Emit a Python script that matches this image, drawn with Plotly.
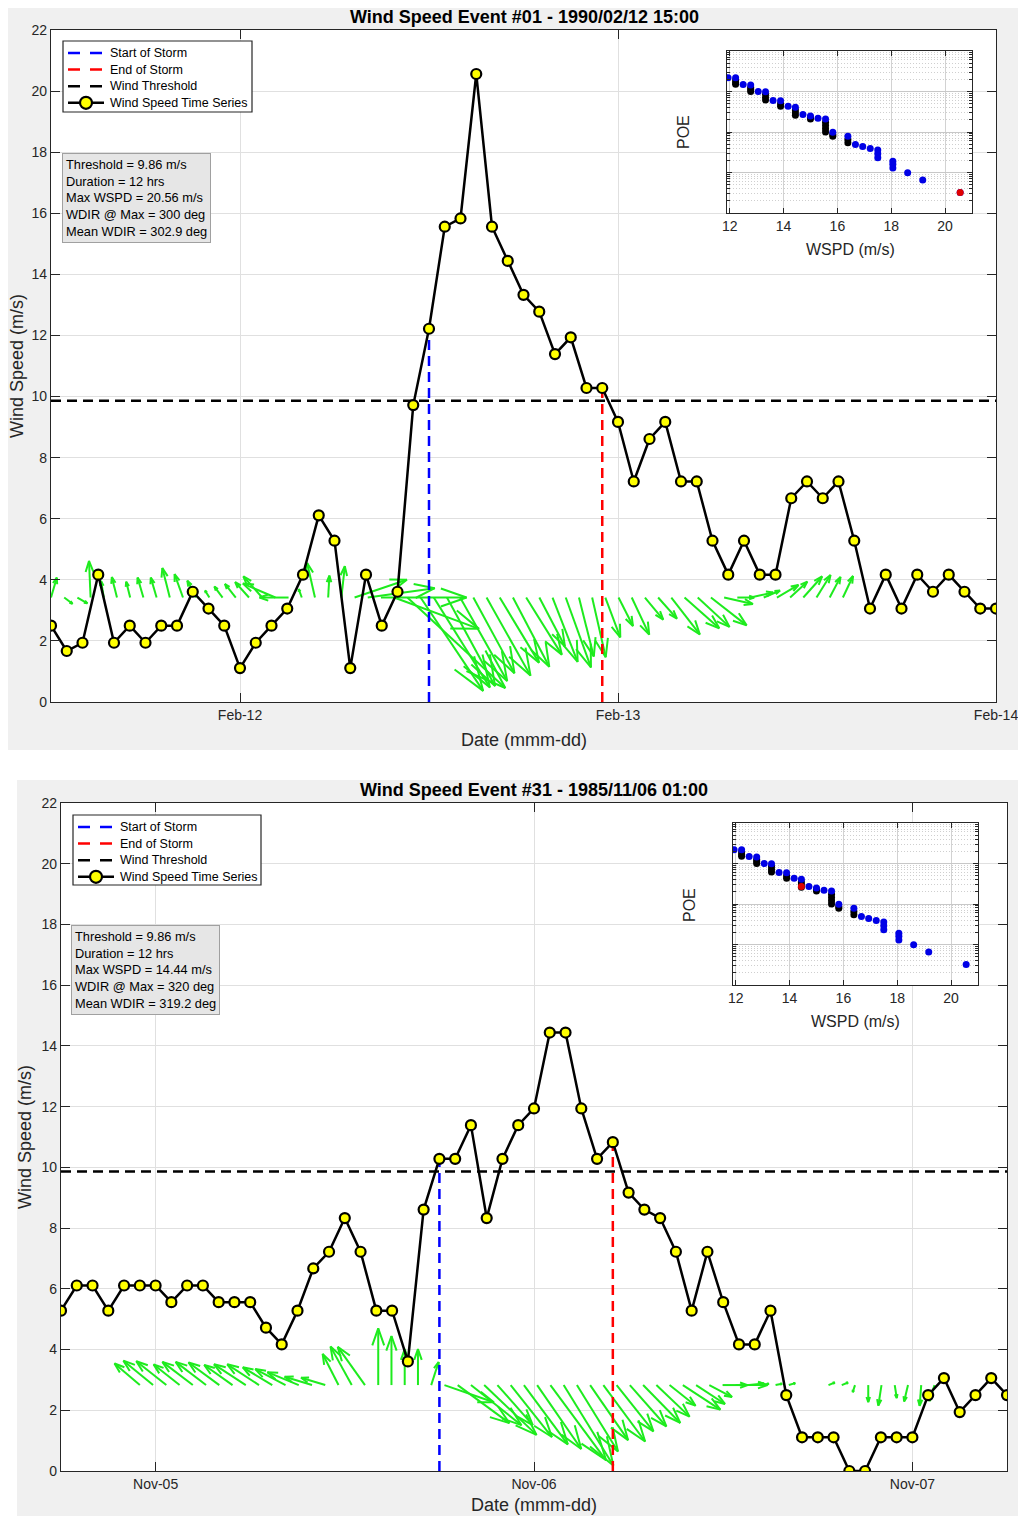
import math
from datetime import datetime, timedelta
import plotly.graph_objects as go

# The browser adds an 8px body margin; the figure starts at (8, 8) and runs to the window edge.
PAGE_W, PAGE_H = 1026, 1516
OFF = 8
W, H = PAGE_W - OFF, PAGE_H - OFF
FONT = "Liberation Sans, Arial, Helvetica, sans-serif"
AX = "#262626"

# ---------------- Event #01 ----------------
E1_TITLE = "Wind Speed Event #01 - 1990/02/12 15:00"
E1_T0 = datetime(1990, 2, 11, 12)
E1_T1 = datetime(1990, 2, 14, 0)
E1_WSPD = [2.5, 1.67, 1.94, 4.17, 1.94, 2.5, 1.94, 2.5, 2.5, 3.61, 3.06, 2.5, 1.11, 1.94, 2.5, 3.06,
           4.17, 6.11, 5.28, 1.11, 4.17, 2.5, 3.61, 9.72, 12.22, 15.56, 15.83, 20.56, 15.56, 14.44,
           13.33, 12.78, 11.39, 11.94, 10.28, 10.28, 9.17, 7.22, 8.61, 9.17, 7.22, 7.22, 5.28, 4.17,
           5.28, 4.17, 4.17, 6.67, 7.22, 6.67, 7.22, 5.28, 3.06, 4.17, 3.06, 4.17, 3.61, 4.17, 3.61,
           3.06, 3.06]
E1_WDIR = [205, 295, 290, 176, 165, 158, 158, 155, 155, 158, 150, 140, 135, 130, 128, 125,
           125, 105, 90, 150, 160, 185, 190, 258, 265, 270, 283, 300, 313, 315,
           319, 318, 319, 318, 316, 320, 315, 320, 328, 330, 338, 340, 329, 321,
           323, 307, 305, 309, 299, 300, 296, 278, 270, 262, 255, 250, 240, 235, 225,
           220, 217]
E1_START_IDX, E1_END_IDX = 24, 35
E1_THRESHOLD = 9.86
E1_DURATION = 12
E1_MAX_WSPD = 20.56
E1_WDIR_AT_MAX = 300
E1_MEAN_WDIR = 302.9
E1_EVENT_POE = (20.56, 0.00032)

# ---------------- Event #31 ----------------
E31_TITLE = "Wind Speed Event #31 - 1985/11/06 01:00"
E31_T0 = datetime(1985, 11, 4, 18)
E31_T1 = datetime(1985, 11, 7, 6)
E31_WSPD = [5.28, 6.11, 6.11, 5.28, 6.11, 6.11, 6.11, 5.56, 6.11, 6.11, 5.56, 5.56, 5.56, 4.72, 4.17,
            5.28, 6.67, 7.22, 8.33, 7.22, 5.28, 5.28, 3.61, 8.61, 10.28, 10.28, 11.39, 8.33, 10.28,
            11.39, 11.94, 14.44, 14.44, 11.94, 10.28, 10.83, 9.17, 8.61, 8.33, 7.22, 5.28, 7.22, 5.56,
            4.17, 4.17, 5.28, 2.5, 1.11, 1.11, 1.11, 0.0, 0.0, 1.11, 1.11, 1.11, 2.5, 3.06, 1.94, 2.5,
            3.06, 2.5]
E31_WDIR = [127, 126, 125, 125, 124, 124, 123, 122, 120, 120, 118, 115, 110, 105, 105,
            150, 148, 141, 180, 180, 180, 180, 200, 287, 303, 305, 310, 315, 318,
            320, 322, 320, 325, 325, 322, 320, 318, 315, 312, 310, 305, 300, 300,
            295, 270, 270, 265, 260, 260, 255, 250, 250, 250, 250, 20, 0, 10, 350, 15,
            5, 20]
E31_START_IDX, E31_END_IDX = 24, 35
E31_THRESHOLD = 9.86
E31_DURATION = 12
E31_MAX_WSPD = 14.44
E31_WDIR_AT_MAX = 320
E31_MEAN_WDIR = 319.2
E31_EVENT_POE = (14.44, 0.027)

# ---------------- POE inset (all events) ----------------
POE_BLUE_WSPD = [11.94, 12.22, 12.50, 12.78, 13.06, 13.33, 13.61, 13.89, 14.17, 14.44, 14.72, 15.00,
                 15.28, 15.56, 15.83, 16.39, 16.67, 16.94, 17.22, 17.50, 17.50, 17.50, 18.06, 18.06,
                 18.06, 18.61, 19.17, 20.56]
POE_BLUE_P = [0.219, 0.219, 0.148, 0.145, 0.100, 0.098, 0.060, 0.059, 0.043, 0.041, 0.027, 0.025,
              0.022, 0.021, 0.0098, 0.0078, 0.0049, 0.0044, 0.0039, 0.0036, 0.0029, 0.0023, 0.0019,
              0.0016, 0.0013, 0.00098, 0.00065, 0.00032]
POE_BLACK_WSPD = [12.22, 12.22, 12.22, 12.78, 12.78, 12.78, 13.33, 13.33, 13.33, 13.89, 13.89,
                  14.44, 14.44, 14.44, 15.00, 15.00, 15.56, 15.56, 15.56, 15.56, 15.83, 15.83,
                  16.39, 16.39]
POE_BLACK_P = [0.191, 0.166, 0.150, 0.126, 0.112, 0.100, 0.085, 0.072, 0.062, 0.050, 0.043,
               0.035, 0.030, 0.026, 0.023, 0.021, 0.0174, 0.0145, 0.0120, 0.0100, 0.0087, 0.0078,
               0.0065, 0.0054]
INSET_XTICKS = [12, 14, 16, 18, 20]

LEGEND_LABELS = ["Start of Storm", "End of Storm", "Wind Threshold", "Wind Speed Time Series"]

# ---------------- layout geometry (page pixels) ----------------
PANELS = [
    dict(title=E1_TITLE, t0=E1_T0, t1=E1_T1, ws=E1_WSPD, wd=E1_WDIR, si=E1_START_IDX, ei=E1_END_IDX,
         thr=E1_THRESHOLD, dur=E1_DURATION, mx=E1_MAX_WSPD, wdm=E1_WDIR_AT_MAX, mwd=E1_MEAN_WDIR,
         ev=E1_EVENT_POE,
         main=(51, 996, 30, 702), inset=(727, 972, 51, 213), cover=(695, 985, 40, 262),
         q_start=0.0, q_step=0.838, q_base=3.42, kx=5.5, ky=8.8,
         legend=(63, 41, 189, 71), box=(62, 153), title_xy=(524, 17), ylab=(17, 366), xlab=(524, 740),
         poe_lab=(683, 132), wspd_lab=(850, 249)),
    dict(title=E31_TITLE, t0=E31_T0, t1=E31_T1, ws=E31_WSPD, wd=E31_WDIR, si=E31_START_IDX, ei=E31_END_IDX,
         thr=E31_THRESHOLD, dur=E31_DURATION, mx=E31_MAX_WSPD, wdm=E31_WDIR_AT_MAX, mwd=E31_MEAN_WDIR,
         ev=E31_EVENT_POE,
         main=(61, 1007, 803, 1471), inset=(733, 978, 823, 985), cover=(700, 996, 813, 1027),
         q_start=5.0, q_step=0.84, q_base=2.83, kx=6.0, ky=6.8,
         legend=(73, 815, 188, 70), box=(71, 925), title_xy=(534, 790), ylab=(25, 1137), xlab=(534, 1505),
         poe_lab=(689, 905), wspd_lab=(855, 1021)),
]


def px(x):
    return (x - OFF) / W


def py(y):
    return 1 - (y - OFF) / H


def quiver(t0, start_h, step_h, base, wspd, wdir, kx, ky, px_h, px_u):
    xs, ys = [], []
    a, b = 0.3, 0.35
    for i, (s, d) in enumerate(zip(wspd, wdir)):
        if s <= 0:
            continue
        th = math.radians(d)
        u = -s * math.sin(th) * kx
        v = -s * math.cos(th) * ky
        h0 = start_h + i * step_h

        def P(qx, qy):
            return t0 + timedelta(hours=h0 + qx / px_h), base + qy / px_u

        tail = P(0, 0)
        tip = P(u, v)
        h1 = P(u - a * (u + b * v), v - a * (v - b * u))
        h2 = P(u - a * (u - b * v), v - a * (v + b * u))
        for p in (tail, tip):
            xs.append(p[0]); ys.append(p[1])
        xs.append(None); ys.append(None)
        for p in (h1, tip, h2):
            xs.append(p[0]); ys.append(p[1])
        xs.append(None); ys.append(None)
    return xs, ys


fig = go.Figure()
layout = dict(width=W, height=H, margin=dict(l=0, r=0, t=0, b=0, pad=0, autoexpand=False),
              autosize=False, paper_bgcolor="#f0f0f0", plot_bgcolor="white",
              font=dict(family=FONT, color=AX), showlegend=False, hovermode=False)
annotations = []
shapes = [
    dict(type="rect", xref="paper", yref="paper", x0=0, x1=1, y0=py(780), y1=py(750),
         fillcolor="white", line=dict(width=0), layer="below"),
    dict(type="rect", xref="paper", yref="paper", x0=0, x1=px(17), y0=0, y1=py(780),
         fillcolor="white", line=dict(width=0), layer="below"),
]

DASH = "10px,6px"

for k, P in enumerate(PANELS):
    n_main, n_cov, n_in = 3 * k + 1, 3 * k + 2, 3 * k + 3
    xm = "x" if n_main == 1 else f"x{n_main}"
    ym = "y" if n_main == 1 else f"y{n_main}"
    xi, yi = f"x{n_in}", f"y{n_in}"
    xc, yc = f"x{n_cov}", f"y{n_cov}"

    x0p, x1p, y0p, y1p = P["main"]
    hours = (P["t1"] - P["t0"]).total_seconds() / 3600
    px_h = (x1p - x0p) / hours
    px_u = (y1p - y0p) / 22.0
    times = [P["t0"] + timedelta(hours=i) for i in range(len(P["ws"]))]

    # wind direction arrows
    qx, qy = quiver(P["t0"], P["q_start"], P["q_step"], P["q_base"], P["ws"], P["wd"],
                    P["kx"], P["ky"], px_h, px_u)
    fig.add_trace(go.Scatter(x=qx, y=qy, mode="lines", line=dict(color="rgb(30,235,30)", width=2),
                             hoverinfo="skip", xaxis=xm, yaxis=ym))
    fig.add_trace(go.Scatter(x=[P["t0"], P["t1"]], y=[P["thr"], P["thr"]], mode="lines",
                             line=dict(color="black", width=2.5, dash=DASH),
                             name="Wind Threshold", xaxis=xm, yaxis=ym))
    ts, te = times[P["si"]], times[P["ei"]]
    fig.add_trace(go.Scatter(x=[ts, ts], y=[0, P["ws"][P["si"]]], mode="lines",
                             line=dict(color="#0000ff", width=2.5, dash=DASH),
                             name="Start of Storm", xaxis=xm, yaxis=ym))
    fig.add_trace(go.Scatter(x=[te, te], y=[0, P["ws"][P["ei"]]], mode="lines",
                             line=dict(color="#ff0000", width=2.5, dash=DASH),
                             name="End of Storm", xaxis=xm, yaxis=ym))
    fig.add_trace(go.Scatter(x=times, y=P["ws"], mode="lines+markers",
                             line=dict(color="black", width=2.5),
                             marker=dict(size=10, color="#ffff00", line=dict(color="black", width=2.2)),
                             name="Wind Speed Time Series", xaxis=xm, yaxis=ym))

    # inset POE scatter
    fig.add_trace(go.Scatter(x=POE_BLACK_WSPD, y=POE_BLACK_P, mode="markers",
                             marker=dict(size=7, color="black"), xaxis=xi, yaxis=yi))
    fig.add_trace(go.Scatter(x=POE_BLUE_WSPD, y=POE_BLUE_P, mode="markers",
                             marker=dict(size=7, color="#0000e6"), xaxis=xi, yaxis=yi))
    fig.add_trace(go.Scatter(x=[P["ev"][0]], y=[P["ev"][1]], mode="markers",
                             marker=dict(size=7, color="#e00000"), xaxis=xi, yaxis=yi))

    common = dict(showline=True, linecolor=AX, linewidth=1.3, mirror="ticks", ticks="inside",
                  tickcolor=AX, tickfont=dict(size=14, color=AX, family=FONT), zeroline=False,
                  automargin=False)
    layout["xaxis" if n_main == 1 else f"xaxis{n_main}"] = dict(
        common, domain=[px(x0p), px(x1p)], anchor=ym, type="date",
        range=[P["t0"], P["t1"]], tick0=P["t0"].replace(hour=0) + timedelta(days=1),
        dtick=86400000, tickformat="%b-%d", ticklen=9, showgrid=True, gridcolor="#e0e0e0")
    layout["yaxis" if n_main == 1 else f"yaxis{n_main}"] = dict(
        common, domain=[py(y1p), py(y0p)], anchor=xm, range=[0, 22], dtick=2, ticklen=9,
        showgrid=True, gridcolor="#e0e0e0")

    # blank white panel behind the inset and its labels (hides the main grid there)
    c0, c1, c2, c3 = P["cover"]
    blank = dict(showline=False, showgrid=False, zeroline=False, showticklabels=False, ticks="",
                 range=[0, 1], fixedrange=True, automargin=False)
    layout[f"xaxis{n_cov}"] = dict(blank, domain=[px(c0), px(c1)], anchor=yc)
    layout[f"yaxis{n_cov}"] = dict(blank, domain=[py(c3), py(c2)], anchor=xc)

    ix0, ix1, iy0, iy1 = P["inset"]
    layout[f"xaxis{n_in}"] = dict(
        common, domain=[px(ix0), px(ix1)], anchor=yi, range=[11.9, 21.0], tickvals=INSET_XTICKS,
        ticklen=5, showgrid=True, gridcolor="#d2d2d2")
    layout[f"yaxis{n_in}"] = dict(
        common, domain=[py(iy1), py(iy0)], anchor=xi, type="log", range=[-4, 0], dtick=1,
        showticklabels=False, ticklen=5, showgrid=True, gridcolor="#c8c8c8",
        minor=dict(dtick="D1", ticks="inside", ticklen=3, tickcolor=AX, showgrid=True,
                   gridcolor="#cfcfcf", griddash="1px,2px"))

    # ---- legend (drawn by hand to match the compact MATLAB legend) ----
    lx, ly, lw, lh = P["legend"]
    shapes.append(dict(type="rect", xref="paper", yref="paper", x0=px(lx), x1=px(lx + lw),
                       y0=py(ly + lh), y1=py(ly), fillcolor="white",
                       line=dict(color=AX, width=1.2), layer="above"))
    colors = ["#0000ff", "#ff0000", "black", "black"]
    for j, (lab, col) in enumerate(zip(LEGEND_LABELS, colors)):
        yy = ly + 12 + 16.6 * j
        dash = "solid" if j == 3 else "12px,10px"
        shapes.append(dict(type="line", xref="paper", yref="paper", x0=px(lx + 5), x1=px(lx + 41),
                           y0=py(yy), y1=py(yy), line=dict(color=col, width=2.5, dash=dash),
                           layer="above"))
        if j == 3:
            shapes.append(dict(type="circle", xref="paper", yref="paper",
                               x0=px(lx + 23 - 6), x1=px(lx + 23 + 6), y0=py(yy + 6), y1=py(yy - 6),
                               fillcolor="#ffff00", line=dict(color="black", width=2.2),
                               layer="above"))
        annotations.append(dict(text=lab, xref="paper", yref="paper", x=px(lx + 45), y=py(yy),
                                xanchor="left", yanchor="middle", showarrow=False,
                                font=dict(size=12.5, color="black", family=FONT)))

    box_text = "<br>".join([
        f"Threshold = {P['thr']:.2f} m/s",
        f"Duration = {P['dur']} hrs",
        f"Max WSPD = {P['mx']:.2f} m/s",
        f"WDIR @ Max = {P['wdm']} deg",
        f"Mean WDIR = {P['mwd']:.1f} deg",
    ])
    bx, by = P["box"]
    annotations.append(dict(text=box_text, xref="paper", yref="paper", x=px(bx), y=py(by),
                            xanchor="left", yanchor="top", align="left", showarrow=False,
                            bgcolor="#e6e6e6", bordercolor="#a0a0a0", borderwidth=1, borderpad=3,
                            font=dict(size=12.8, color="black", family=FONT)))
    tx, ty = P["title_xy"]
    annotations.append(dict(text=f"<b>{P['title']}</b>", xref="paper", yref="paper", x=px(tx), y=py(ty),
                            xanchor="center", yanchor="middle", showarrow=False,
                            font=dict(size=18, color="black", family=FONT)))
    yx, yy_ = P["ylab"]
    annotations.append(dict(text="Wind Speed (m/s)", xref="paper", yref="paper", x=px(yx), y=py(yy_),
                            xanchor="center", yanchor="middle", textangle=-90, showarrow=False,
                            font=dict(size=18, color=AX, family=FONT)))
    xx, xy = P["xlab"]
    annotations.append(dict(text="Date (mmm-dd)", xref="paper", yref="paper", x=px(xx), y=py(xy),
                            xanchor="center", yanchor="middle", showarrow=False,
                            font=dict(size=18, color=AX, family=FONT)))
    qx_, qy_ = P["poe_lab"]
    annotations.append(dict(text="POE", xref="paper", yref="paper", x=px(qx_), y=py(qy_),
                            xanchor="center", yanchor="middle", textangle=-90, showarrow=False,
                            font=dict(size=16, color=AX, family=FONT)))
    wx, wy = P["wspd_lab"]
    annotations.append(dict(text="WSPD (m/s)", xref="paper", yref="paper", x=px(wx), y=py(wy),
                            xanchor="center", yanchor="middle", showarrow=False,
                            font=dict(size=16, color=AX, family=FONT)))

layout["annotations"] = annotations
layout["shapes"] = shapes
fig.update_layout(**layout)
fig.write_html("out.html", config={"displayModeBar": False})
